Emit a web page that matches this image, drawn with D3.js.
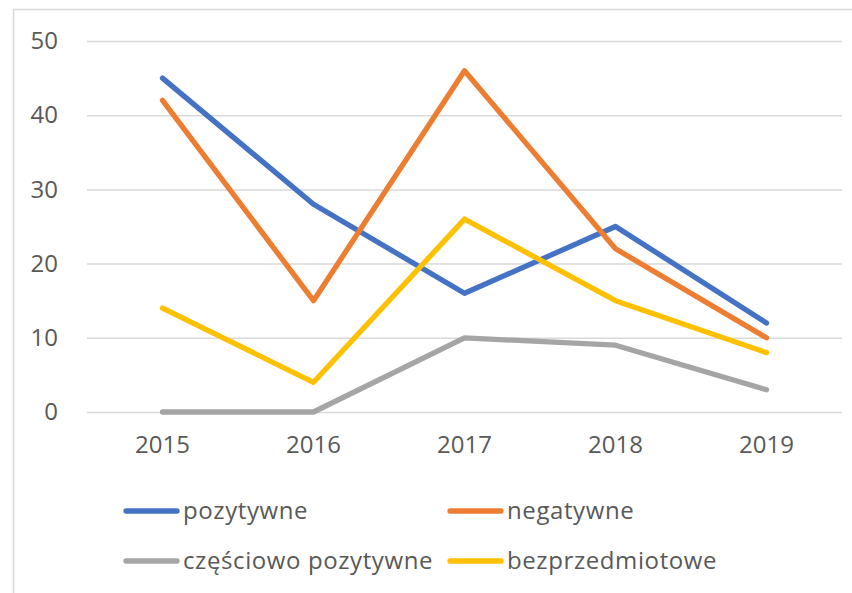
<!DOCTYPE html>
<html><head><meta charset="utf-8">
<script src="https://cdn.jsdelivr.net/npm/d3@7"></script>
<style>body{margin:0;background:#fff}svg{display:block}</style>
</head><body>
<svg id="c" width="852" height="593"></svg>
<script>
const years = ["2015","2016","2017","2018","2019"];
const pozytywne = [45, 28, 16, 25, 12];
const negatywne = [42, 15, 46, 22, 10];
const czesciowo = [0, 0, 10, 9, 3];
const bezprzedmiotowe = [14, 4, 26, 15, 8];
const seriesNames = ["pozytywne", "negatywne", "częściowo pozytywne", "bezprzedmiotowe"];
const yTicks = [0, 10, 20, 30, 40, 50];
const colors = ["#4472C4", "#ED7D31", "#A5A5A5", "#FFC000"];

const series = [pozytywne, negatywne, czesciowo, bezprzedmiotowe].map((v, i) => ({name: seriesNames[i], values: v, color: colors[i]}));

const svg = d3.select("#c");
const font = "'Open Sans', 'Noto Sans', sans-serif";
const txt = "#595959";

svg.append("rect").attr("x", 13.5).attr("y", 9.5).attr("width", 860).attr("height", 600)
  .attr("fill", "#fff").attr("stroke", "#D9D9D9").attr("stroke-width", 1.5);

const pLeft = 87, pRight = 842, pTop = 41, pBottom = 412;
const x = d3.scaleBand().domain(years).range([pLeft, pRight]);
const y = d3.scaleLinear().domain([0, 50]).range([pBottom, pTop]);

const yAxis = svg.append("g").attr("transform", `translate(${pLeft},0)`)
  .call(d3.axisLeft(y).tickValues(yTicks).tickSize(-(pRight - pLeft)).tickPadding(29));
yAxis.select(".domain").remove();
yAxis.selectAll("line").attr("stroke", "#D9D9D9").attr("stroke-width", 1.5);
yAxis.selectAll("text").attr("fill", txt).style("font-family", font).style("font-size", "24px");

const xAxis = svg.append("g").attr("transform", `translate(0,${pBottom})`)
  .call(d3.axisBottom(x).tickSize(0).tickPadding(24));
xAxis.select(".domain").remove();
xAxis.selectAll("text").attr("fill", txt).style("font-family", font).style("font-size", "24px");

const line = d3.line().x((d, i) => x(years[i]) + x.bandwidth() / 2).y(d => y(d));
svg.append("g").selectAll("path").data(series).join("path")
  .attr("d", d => line(d.values)).attr("fill", "none")
  .attr("stroke", d => d.color).attr("stroke-width", 5.3)
  .attr("stroke-linecap", "round").attr("stroke-linejoin", "round");

const legPos = [[126, 511], [450, 511], [126, 561], [450, 561]];
const leg = svg.append("g").selectAll("g").data(series).join("g")
  .attr("transform", (d, i) => `translate(${legPos[i][0]},${legPos[i][1]})`);
leg.append("line").attr("x1", 0).attr("x2", 51).attr("stroke", d => d.color)
  .attr("stroke-width", 5.3).attr("stroke-linecap", "round");
leg.append("text").attr("x", 57).attr("dy", "0.35em").text(d => d.name)
  .attr("fill", txt).style("font-family", font).style("font-size", "24px")
  .style("letter-spacing", "0.6px");
</script>
</body></html>
